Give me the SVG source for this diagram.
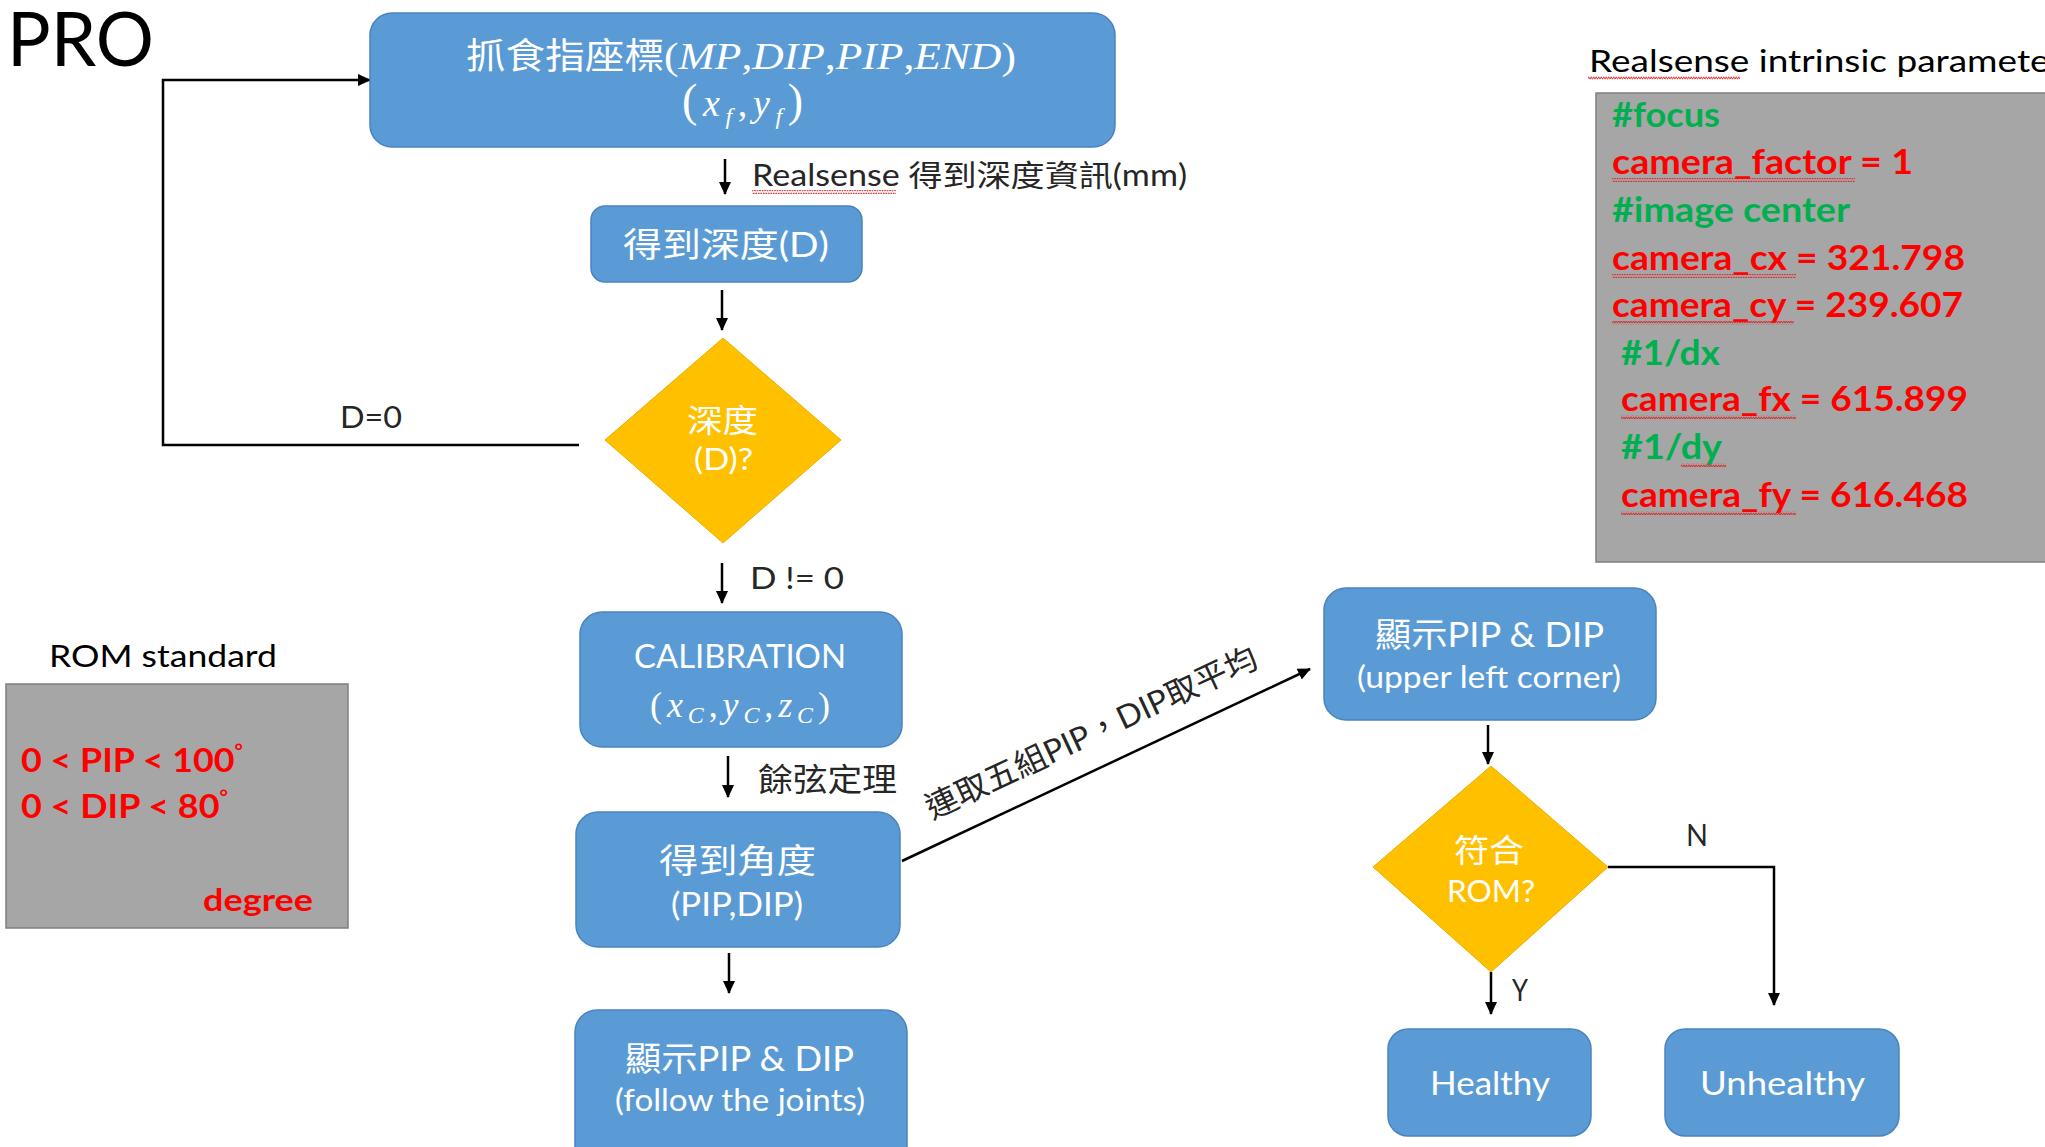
<svg xmlns="http://www.w3.org/2000/svg" width="2045" height="1147" viewBox="0 0 2045 1147">
<style>
.bg{fill:#ffffff}
.box{fill:#5B9BD5;stroke:#4A84BC;stroke-width:1.5}
.dia{fill:#FFC000;stroke:#E8B000;stroke-width:1}
.gray{fill:#A6A6A6;stroke:#7F7F7F;stroke-width:1.5}
.wt{fill:#ffffff;font-family:Lato,"Noto Sans CJK TC",sans-serif}
.bk{fill:#000000;font-family:Lato,"Noto Sans CJK TC",sans-serif}
.lbl{fill:#262626;font-family:Lato,"Noto Sans CJK TC",sans-serif}
.cjk{font-family:"Noto Sans CJK TC",sans-serif}
.math{fill:#ffffff;font-family:"Liberation Serif","DejaVu Serif",serif}
.red{fill:#FF0000;font-family:Lato,sans-serif;font-weight:bold}
.grn{fill:#00B050;font-family:Lato,sans-serif;font-weight:bold}
.con{fill:none;stroke:#000000;stroke-width:2.5}
.wv{fill:url(#wavy)}
</style>
<defs>
<marker id="ah" markerUnits="userSpaceOnUse" markerWidth="13" markerHeight="12" viewBox="0 0 13 12" refX="12" refY="6" orient="auto">
<path d="M0,0 L13,6 L0,12 z" fill="#000000"/>
</marker>
<pattern id="wavy" patternUnits="userSpaceOnUse" width="5" height="4">
<path d="M0,3.2 L1.25,0.8 L2.5,3.2 L3.75,0.8 L5,3.2" fill="none" stroke="#E02020" stroke-width="0.9"/>
</pattern>
</defs>
<rect class="bg" x="0" y="0" width="2045" height="1147"/>

<g id="title-pro">
<text class="bk" x="7" y="66" font-size="76" textLength="147" lengthAdjust="spacingAndGlyphs">PRO</text>
</g>

<g id="connectors">
<path class="con" d="M579,445 H163 V80 H370" marker-end="url(#ah)"/>
<line class="con" x1="725" y1="159" x2="725" y2="194" marker-end="url(#ah)"/>
<line class="con" x1="722" y1="290" x2="722" y2="330" marker-end="url(#ah)"/>
<line class="con" x1="722" y1="563" x2="722" y2="603" marker-end="url(#ah)"/>
<line class="con" x1="728" y1="756" x2="728" y2="797" marker-end="url(#ah)"/>
<line class="con" x1="729" y1="953" x2="729" y2="993" marker-end="url(#ah)"/>
<line class="con" x1="902" y1="861" x2="1310" y2="669" marker-end="url(#ah)"/>
<line class="con" x1="1488" y1="725" x2="1488" y2="764" marker-end="url(#ah)"/>
<line class="con" x1="1491" y1="972" x2="1491" y2="1014" marker-end="url(#ah)"/>
<path class="con" d="M1608,867 H1774 V1005" marker-end="url(#ah)"/>
<text class="lbl" x="752" y="186" font-size="30" textLength="435" lengthAdjust="spacingAndGlyphs">Realsense 得到深度資訊(mm)</text>
<rect class="wv" x="752" y="190" width="144" height="4"/>
<text class="lbl" x="340" y="428" font-size="30" textLength="62" lengthAdjust="spacingAndGlyphs">D=0</text>
<text class="lbl" x="750" y="589" font-size="30" textLength="94" lengthAdjust="spacingAndGlyphs">D != 0</text>
<text class="lbl" x="758" y="791" font-size="32" textLength="139" lengthAdjust="spacingAndGlyphs">餘弦定理</text>
<text class="lbl" x="1096" y="743" font-size="32" text-anchor="middle" textLength="362" lengthAdjust="spacingAndGlyphs" transform="rotate(-25.1 1096 743)">連取五組PIP，DIP取平均</text>
<text class="lbl" x="1512" y="1001" font-size="31" textLength="16" lengthAdjust="spacingAndGlyphs">Y</text>
<text class="lbl" x="1686" y="846" font-size="31" textLength="22" lengthAdjust="spacingAndGlyphs">N</text>
</g>

<g id="node-coords">
<rect class="box" x="370" y="13" width="745" height="134" rx="22"/>
<text class="wt cjk" x="466" y="69" font-size="36" textLength="198" lengthAdjust="spacingAndGlyphs">抓食指座標</text>
<text class="math" x="664" y="69" font-size="37" textLength="352" lengthAdjust="spacingAndGlyphs">(<tspan font-style="italic">MP</tspan>,<tspan font-style="italic">DIP</tspan>,<tspan font-style="italic">PIP</tspan>,<tspan font-style="italic">END</tspan>)</text>
<text class="math" x="682" y="116" font-size="38" textLength="121" lengthAdjust="spacing"><tspan font-size="46">(</tspan><tspan font-style="italic">x</tspan><tspan font-style="italic" font-size="24" dy="8">f</tspan><tspan dy="-8">,</tspan><tspan font-style="italic">y</tspan><tspan font-style="italic" font-size="24" dy="8">f</tspan><tspan font-size="46" dy="-8">)</tspan></text>
</g>

<g id="node-depth">
<rect class="box" x="591" y="206" width="271" height="76" rx="14"/>
<text class="wt" x="623" y="257" font-size="34" textLength="206" lengthAdjust="spacingAndGlyphs">得到深度(D)</text>
</g>

<g id="node-depth-check">
<polygon class="dia" points="723,338 841,440 723,543 605,440"/>
<text class="wt" x="687" y="432" font-size="32" textLength="71" lengthAdjust="spacingAndGlyphs">深度</text>
<text class="wt" x="694" y="470" font-size="31" textLength="59" lengthAdjust="spacingAndGlyphs">(D)?</text>
</g>

<g id="node-calibration">
<rect class="box" x="580" y="612" width="322" height="135" rx="22"/>
<text class="wt" x="634" y="668" font-size="32" textLength="212" lengthAdjust="spacingAndGlyphs">CALIBRATION</text>
<text class="math" x="650" y="717" font-size="36" textLength="180" lengthAdjust="spacing">(<tspan font-style="italic">x</tspan><tspan font-style="italic" font-size="24" dy="6">C</tspan><tspan dy="-6">,</tspan><tspan font-style="italic">y</tspan><tspan font-style="italic" font-size="24" dy="6">C</tspan><tspan dy="-6">,</tspan><tspan font-style="italic">z</tspan><tspan font-style="italic" font-size="24" dy="6">C</tspan><tspan dy="-6">)</tspan></text>
</g>

<g id="node-angle">
<rect class="box" x="576" y="812" width="324" height="135" rx="22"/>
<text class="wt" x="659" y="873" font-size="34" textLength="157" lengthAdjust="spacingAndGlyphs">得到角度</text>
<text class="wt" x="671" y="916" font-size="32" textLength="132" lengthAdjust="spacingAndGlyphs">(PIP,DIP)</text>
</g>

<g id="node-show-joints">
<rect class="box" x="575" y="1010" width="332" height="160" rx="22"/>
<text class="wt" x="625" y="1071" font-size="34" textLength="229" lengthAdjust="spacingAndGlyphs">顯示PIP &amp; DIP</text>
<text class="wt" x="615" y="1111" font-size="30" textLength="250" lengthAdjust="spacingAndGlyphs">(follow the joints)</text>
</g>

<g id="node-show-corner">
<rect class="box" x="1324" y="588" width="332" height="132" rx="22"/>
<text class="wt" x="1375" y="647" font-size="34" textLength="229" lengthAdjust="spacingAndGlyphs">顯示PIP &amp; DIP</text>
<text class="wt" x="1357" y="688" font-size="30" textLength="264" lengthAdjust="spacingAndGlyphs">(upper left corner)</text>
</g>

<g id="node-rom-check">
<polygon class="dia" points="1491,766 1608,867 1491,972 1373,867"/>
<text class="wt" x="1454" y="862" font-size="32" textLength="70" lengthAdjust="spacingAndGlyphs">符合</text>
<text class="wt" x="1447" y="902" font-size="31" textLength="88" lengthAdjust="spacingAndGlyphs">ROM?</text>
</g>

<g id="node-healthy">
<rect class="box" x="1388" y="1029" width="203" height="107" rx="20"/>
<text class="wt" x="1430" y="1095" font-size="33" textLength="120" lengthAdjust="spacingAndGlyphs">Healthy</text>
</g>

<g id="node-unhealthy">
<rect class="box" x="1665" y="1029" width="234" height="107" rx="20"/>
<text class="wt" x="1700" y="1095" font-size="33" textLength="165" lengthAdjust="spacingAndGlyphs">Unhealthy</text>
</g>

<g id="rom-standard">
<text class="bk" x="49" y="667" font-size="31" textLength="228" lengthAdjust="spacingAndGlyphs">ROM standard</text>
<rect class="gray" x="6" y="684" width="342" height="244"/>
<text class="red" x="21" y="772" font-size="32" textLength="222" lengthAdjust="spacingAndGlyphs">0 &lt; PIP &lt; 100<tspan font-size="18" dy="-14">°</tspan></text>
<text class="red" x="21" y="818" font-size="32" textLength="207" lengthAdjust="spacingAndGlyphs">0 &lt; DIP &lt; 80<tspan font-size="18" dy="-14">°</tspan></text>
<text class="red" x="203" y="911" font-size="31" textLength="110" lengthAdjust="spacingAndGlyphs">degree</text>
</g>

<g id="realsense-params">
<text class="bk" x="1589" y="72" font-size="31" textLength="490" lengthAdjust="spacingAndGlyphs">Realsense intrinsic parameters</text>
<rect class="wv" x="1588" y="76" width="152" height="4"/>
<rect class="gray" x="1596" y="93" width="460" height="469"/>
<text class="grn" x="1612" y="127" font-size="35" textLength="108" lengthAdjust="spacingAndGlyphs">#focus</text>
<text class="red" x="1612" y="174" font-size="35" textLength="301" lengthAdjust="spacingAndGlyphs">camera_factor = 1</text>
<rect class="wv" x="1612" y="178" width="243" height="4"/>
<text class="grn" x="1612" y="222" font-size="35" textLength="238" lengthAdjust="spacingAndGlyphs">#image center</text>
<text class="red" x="1612" y="270" font-size="35" textLength="353" lengthAdjust="spacingAndGlyphs">camera_cx = 321.798</text>
<rect class="wv" x="1612" y="274" width="184" height="4"/>
<text class="red" x="1612" y="317" font-size="35" textLength="351" lengthAdjust="spacingAndGlyphs">camera_cy = 239.607</text>
<rect class="wv" x="1612" y="321" width="182" height="4"/>
<text class="grn" x="1621" y="365" font-size="35" textLength="99" lengthAdjust="spacingAndGlyphs">#1/dx</text>
<text class="red" x="1621" y="411" font-size="35" textLength="347" lengthAdjust="spacingAndGlyphs">camera_fx = 615.899</text>
<rect class="wv" x="1621" y="415" width="175" height="4"/>
<text class="grn" x="1621" y="459" font-size="35" textLength="101" lengthAdjust="spacingAndGlyphs">#1/dy</text>
<rect class="wv" x="1681" y="463" width="45" height="4"/>
<text class="red" x="1621" y="507" font-size="35" textLength="347" lengthAdjust="spacingAndGlyphs">camera_fy = 616.468</text>
<rect class="wv" x="1621" y="511" width="175" height="4"/>
</g>
</svg>
